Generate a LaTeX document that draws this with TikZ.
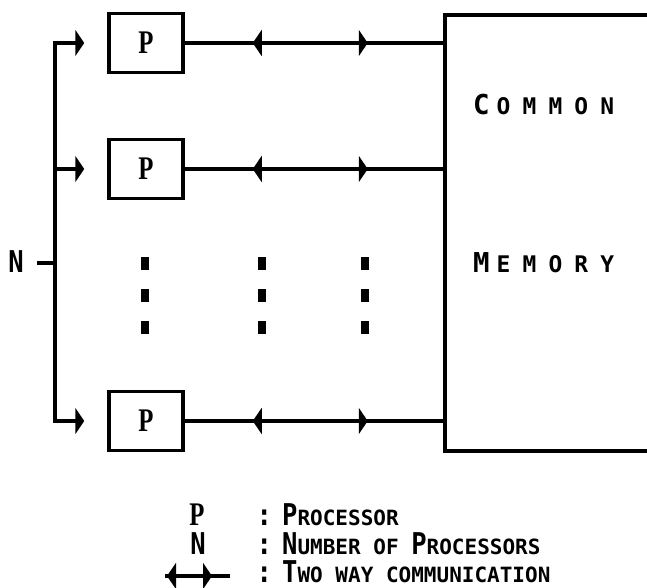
\documentclass[tikz,border=0pt]{standalone}
\usepackage{fontspec}
\usepackage{graphicx}
\usetikzlibrary{arrows.meta, positioning, calc, decorations.markings}
\newfontfamily\legfont{DejaVu Sans Mono}
\newfontfamily\memfont{DejaVu Sans Mono}[LetterSpace=53]
\newfontfamily\procfont{Liberation Serif}
\newcommand{\procP}{{\procfont\bfseries\fontsize{33}{33}\selectfont\scalebox{0.75}[1]{P}}}
\newcommand{\capL}[1]{{\fontsize{30}{30}\selectfont\scalebox{0.85}[1]{#1}}}
\newcommand{\legtxt}[1]{{\legfont\bfseries\fontsize{21}{21}\selectfont #1}}
\newcommand{\memC}[1]{{\legfont\bfseries\fontsize{27.4}{28}\selectfont #1}\kern7pt}
\newcommand{\memS}[1]{{\memfont\bfseries\fontsize{22.9}{23}\selectfont #1}}
\tikzset{
  wire/.style={line width=3.5pt},
  pbox/.style={rectangle, draw, line width=3.5pt, minimum width=74pt,
               minimum height=59pt, inner sep=0pt},
  membox/.style={rectangle, draw, line width=3.5pt, minimum width=320pt,
                 minimum height=436pt, inner sep=0pt, anchor=west},
  feed/.style={line width=3.5pt, -{Triangle[length=9pt, width=26pt]}},
  twoway/.style 2 args={line width=3.5pt, postaction={decorate},
    decoration={markings,
      mark=at position #1 with {\arrow{Triangle[length=9pt, width=26pt, reversed]}},
      mark=at position #2 with {\arrow{Triangle[length=9pt, width=26pt]}}}},
  lbl/.style={inner sep=0pt, anchor=base west},
}
\begin{document}
\begin{tikzpicture}[x=1pt, y=-1pt]
  \useasboundingbox (0,0) rectangle (647,588);

  % processors and common memory
  \node[pbox] (p1) at (146,43) {\procP};
  \node[pbox] (p2) at (146,169) {\procP};
  \node[pbox] (p3) at (146,421) {\procP};
  \node[membox] (mem) at (443,233) {};
  \node[lbl] (common) at (473,115) {\memC{C}\memS{OMMON}};
  \node[lbl] (memory) at (473,272) {\memC{M}\memS{EMORY}};

  % N feed bus
  \node[inner sep=1pt] (nlbl) at (16,262) {\legtxt{\capL{N}}};
  \coordinate (b1) at (55,43);
  \coordinate (bn) at (55,263);
  \coordinate (b3) at (55,421);
  \draw[wire, line cap=rect] (b1) -- (b3);
  \draw[wire, shorten <=12pt] (nlbl.east |- bn) -- (bn);
  \draw[feed] (b1) -- ([xshift=-23pt]p1.west);
  \draw[feed] (b1 |- p2.west) -- ([xshift=-23pt]p2.west);
  \draw[feed] (b3) -- ([xshift=-23pt]p3.west);

  % two way links
  \draw[twoway={77pt}{183pt}] (p1.east) -- (mem.west |- p1.east);
  \draw[twoway={77pt}{183pt}] (p2.east) -- (mem.west |- p2.east);
  \draw[twoway={77pt}{183pt}] (p3.east) -- (mem.west |- p3.east);

  % vertical dots
  \foreach \dx in {145,262,365}
    \foreach \dy in {263,295,327}
      \fill (\dx-4,\dy-6.5) rectangle (\dx+4,\dy+6.5);

  % legend
  \node[inner sep=0pt, anchor=base] (keyp) at (197,525) {\procP};
  \node[inner sep=0pt, anchor=base] (keyn) at (198,554) {\legtxt{\capL{N}}};
  \coordinate (keya) at (165,576);
  \coordinate (keyb) at (230,576);
  \draw[twoway={11pt}{47pt}] (keya) -- (keyb);
  \node[lbl] (txtp) at (256.5,525) {\legtxt{\capL{:}\kern-2.5pt\ \capL{P}ROCESSOR}};
  \node[lbl] (txtn) at (256.5,554) {\legtxt{\capL{:}\kern-2.5pt\ \capL{N}UMBER OF \capL{P}ROCESSORS}};
  \node[lbl] (txta) at (256.5,582) {\legtxt{\capL{:}\kern-2.5pt\ \capL{T}WO WAY COMMUNICATION}};
\end{tikzpicture}
\end{document}
